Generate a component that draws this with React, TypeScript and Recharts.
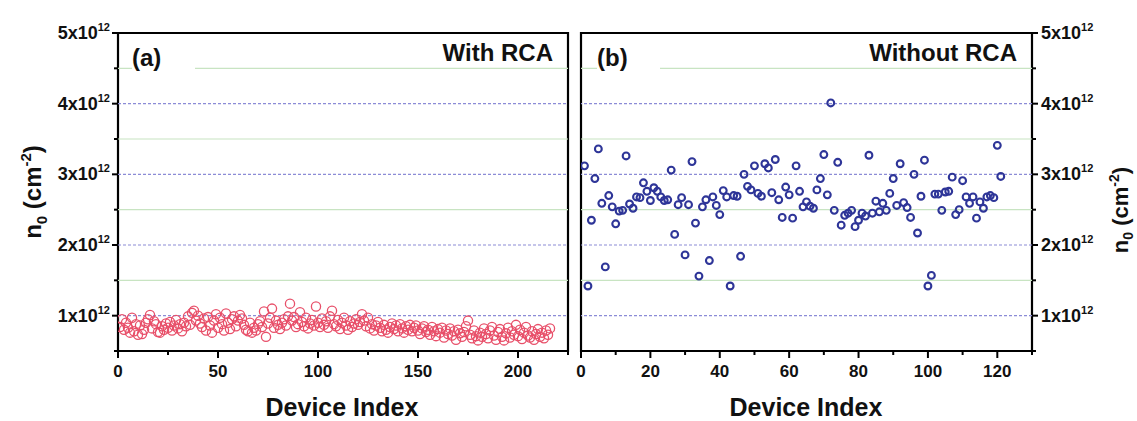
import React from 'react';
import { ScatterChart, Scatter, XAxis, YAxis, ReferenceLine, ReferenceArea } from 'recharts';

// n0 values in units of 10^12 cm^-2; device index starts at 1
const withRcaValues = [
  0.84, 0.95, 0.80, 0.90, 0.83, 0.76, 0.97, 0.78, 0.88, 0.73, 0.86, 0.74, 0.80, 0.90, 0.95, 1.01, 0.82, 0.92, 0.88, 0.77,
  0.76, 0.85, 0.80, 0.89, 0.83, 0.91, 0.79, 0.86, 0.94, 0.82, 0.88, 0.78, 0.90, 0.85, 0.99, 0.87, 1.04, 1.07, 0.93, 1.00,
  0.89, 0.84, 0.96, 0.79, 0.98, 0.86, 0.76, 0.93, 1.02, 0.83, 0.97, 0.88, 0.79, 1.03, 0.90, 0.81, 0.95, 0.99, 0.85, 0.93,
  1.01, 0.96, 0.87, 0.80, 0.78, 0.90, 0.76, 0.83, 0.79, 0.88, 0.92, 0.84, 1.06, 0.70, 0.89, 0.97, 1.10, 0.83, 0.93, 0.87,
  0.81, 0.90, 0.95, 0.86, 0.99, 1.17, 0.93, 0.98, 0.84, 0.88, 1.05, 0.91, 0.85, 0.97, 0.82, 0.89, 0.94, 0.86, 1.13, 0.90,
  0.84, 0.96, 0.87, 0.92, 0.83, 0.99, 1.07, 0.88, 0.85, 0.94, 0.81, 0.90, 0.97, 0.86, 0.80, 0.92, 0.84, 0.89, 0.95, 0.87,
  0.91, 1.02, 0.93, 0.85, 0.97, 0.82, 0.88, 0.79, 0.86, 0.91, 0.83, 0.78, 0.87, 0.80, 0.76, 0.84, 0.89, 0.81, 0.86, 0.78,
  0.88, 0.82, 0.76, 0.85, 0.80, 0.87, 0.78, 0.83, 0.86, 0.79, 0.74, 0.82, 0.85, 0.77, 0.80, 0.73, 0.84, 0.78, 0.71, 0.81,
  0.76, 0.83, 0.69, 0.79, 0.74, 0.82, 0.72, 0.78, 0.66, 0.80, 0.75, 0.70, 0.77, 0.85, 0.93, 0.73, 0.68, 0.79, 0.71, 0.65,
  0.76, 0.70, 0.82, 0.74, 0.68, 0.79, 0.84, 0.72, 0.66, 0.77, 0.81, 0.70, 0.65, 0.75, 0.83, 0.69, 0.78, 0.73, 0.87, 0.71,
  0.80, 0.67, 0.76, 0.84, 0.72, 0.69, 0.78, 0.66, 0.74, 0.81, 0.70, 0.76, 0.68, 0.79, 0.73, 0.82,
];

const withoutRcaValues = [
  3.12, 1.42, 2.35, 2.94, 3.36, 2.59, 1.69, 2.70, 2.54, 2.30,
  2.48, 2.49, 3.26, 2.58, 2.52, 2.68, 2.67, 2.88, 2.76, 2.63,
  2.81, 2.76, 2.68, 2.63, 2.64, 3.06, 2.15, 2.57, 2.67, 1.86,
  2.57, 3.18, 2.31, 1.56, 2.54, 2.64, 1.78, 2.68, 2.56, 2.43,
  2.77, 2.68, 1.42, 2.70, 2.69, 1.84, 3.00, 2.83, 2.78, 3.12,
  2.73, 2.69, 3.15, 3.09, 2.74, 3.21, 2.64, 2.39, 2.82, 2.71,
  2.38, 3.12, 2.76, 2.54, 2.61, 2.55, 2.52, 2.78, 2.94, 3.28,
  2.71, 4.01, 2.49, 3.17, 2.28, 2.42, 2.45, 2.49, 2.26, 2.35,
  2.45, 2.41, 3.27, 2.45, 2.62, 2.47, 2.59, 2.49, 2.73, 2.94,
  2.56, 3.15, 2.60, 2.53, 2.39, 3.00, 2.17, 2.69, 3.20, 1.42,
  1.57, 2.72, 2.72, 2.49, 2.75, 2.76, 2.96, 2.43, 2.50, 2.91,
  2.68, 2.59, 2.68, 2.38, 2.61, 2.52, 2.68, 2.70, 2.67, 3.41,
  2.97,
];

const yTicks = [0.5, 1, 1.5, 2, 2.5, 3, 3.5, 4, 4.5, 5];
const yMajorGrid = [1, 2, 3, 4];
const yMinorGrid = [1.5, 2.5, 3.5, 4.5];
const xTicksA = [0, 25, 50, 75, 100, 125, 150, 175, 200, 225];
const xTicksB = [0, 10, 20, 30, 40, 50, 60, 70, 80, 90, 100, 110, 120, 130];

const FONT = '"Liberation Sans", Arial, Helvetica, sans-serif';
const RED = '#e8506a';
const BLUE = '#2e3598';

const dataA = withRcaValues.map((v, i) => ({ x: i + 1, y: v }));
const dataB = withoutRcaValues.map((v, i) => ({ x: i + 1, y: v }));

const makeXTick = (majorStep: number) => (props: any) => {
  const { x, y, payload } = props;
  const v = payload.value;
  const major = v % majorStep === 0;
  return (
    <g>
      <line x1={x} y1={y} x2={x} y2={y + (major ? 7 : 4)} stroke="#000" strokeWidth={2} />
      {major && (
        <text x={x} y={y + 26} textAnchor="middle" fontSize={17} fontWeight="bold" fontFamily={FONT} fill="#111">
          {v}
        </text>
      )}
    </g>
  );
};

const LeftYTick = (props: any) => {
  const { x, y, payload } = props;
  const v = payload.value;
  const major = Number.isInteger(v);
  return (
    <g>
      <line x1={x} y1={y} x2={x - (major ? 6 : 4)} y2={y} stroke="#000" strokeWidth={2} />
      {major && (
        <text x={x - 8} y={y + 6} textAnchor="end" fontSize={18} fontWeight="bold" fontFamily={FONT} fill="#111">
          {v}x10<tspan dy={-8} fontSize={11}>12</tspan>
        </text>
      )}
    </g>
  );
};

const RightYTick = (props: any) => {
  const { x, y, payload } = props;
  const v = payload.value;
  const major = Number.isInteger(v);
  return (
    <g>
      <line x1={x} y1={y} x2={x + (major ? 6 : 4)} y2={y} stroke="#000" strokeWidth={2} />
      {major && (
        <text x={x + 9} y={y + 6} textAnchor="start" fontSize={18} fontWeight="bold" fontFamily={FONT} fill="#111">
          {v}x10<tspan dy={-8} fontSize={11}>12</tspan>
        </text>
      )}
    </g>
  );
};

const RedCircle = (props: any) => (
  <circle cx={props.cx} cy={props.cy} r={4.6} fill="none" stroke={RED} strokeWidth={1.3} />
);
const BlueCircle = (props: any) => (
  <circle cx={props.cx} cy={props.cy} r={3.4} fill="none" stroke={BLUE} strokeWidth={2.1} />
);

const grid = () => [
  ...yMinorGrid.map((v) => (
    <ReferenceLine key={'g' + v} y={v} stroke="#c8e4c2" strokeWidth={1.2} />
  )),
  ...yMajorGrid.map((v) => (
    <ReferenceLine key={'b' + v} y={v} stroke="#8c8cd6" strokeWidth={1.2} strokeDasharray="3 2" />
  )),
];

const labelStyle: React.CSSProperties = {
  position: 'absolute',
  fontFamily: FONT,
  fontWeight: 'bold',
  fontSize: 24,
  color: '#111',
  lineHeight: '30px',
  whiteSpace: 'nowrap',
};

export default function App() {
  return (
    <div style={{ position: 'absolute', left: 0, top: 0, width: 1137, height: 421, background: '#fff', overflow: 'hidden' }}>
      <div style={{ position: 'absolute', left: 0, top: 0 }}>
        <ScatterChart width={580} height={421} margin={{ top: 33, right: 12, bottom: 0, left: 0 }}>
          <XAxis
            type="number"
            dataKey="x"
            domain={[0, 225]}
            ticks={xTicksA}
            interval={0}
            height={70}
            axisLine={false}
            tickLine={false}
            tickSize={0}
            tickMargin={0}
            tick={makeXTick(50)}
            allowDataOverflow
          />
          <YAxis
            type="number"
            dataKey="y"
            domain={[0.5, 5]}
            ticks={yTicks}
            interval={0}
            width={118}
            axisLine={false}
            tickLine={false}
            tickSize={0}
            tickMargin={0}
            tick={<LeftYTick />}
            allowDataOverflow
          />
          {grid()}
          <Scatter data={dataA} shape={RedCircle} isAnimationActive={false} />
          <ReferenceArea x1={0} x2={225} y1={0.5} y2={5} fill="none" stroke="#000" strokeWidth={2.2} />
        </ScatterChart>
      </div>
      <div style={{ position: 'absolute', left: 570, top: 0 }}>
        <ScatterChart width={567} height={421} margin={{ top: 33, right: 0, bottom: 0, left: 11 }}>
          <XAxis
            type="number"
            dataKey="x"
            domain={[0, 130]}
            ticks={xTicksB}
            interval={0}
            height={70}
            axisLine={false}
            tickLine={false}
            tickSize={0}
            tickMargin={0}
            tick={makeXTick(20)}
            allowDataOverflow
          />
          <YAxis
            type="number"
            dataKey="y"
            orientation="right"
            domain={[0.5, 5]}
            ticks={yTicks}
            interval={0}
            width={105}
            axisLine={false}
            tickLine={false}
            tickSize={0}
            tickMargin={0}
            tick={<RightYTick />}
            allowDataOverflow
          />
          {grid()}
          <Scatter data={dataB} shape={BlueCircle} isAnimationActive={false} />
          <ReferenceArea x1={0} x2={130} y1={0.5} y2={5} fill="none" stroke="#000" strokeWidth={2.2} />
        </ScatterChart>
      </div>

      <div style={{ ...labelStyle, left: 132, top: 43, width: 63, background: '#fff' }}>(a)</div>
      <div style={{ ...labelStyle, left: 400, top: 38, width: 153, textAlign: 'right' }}>With RCA</div>
      <div style={{ ...labelStyle, left: 597, top: 43, width: 63, background: '#fff' }}>(b)</div>
      <div style={{ ...labelStyle, left: 820, top: 38, width: 197, textAlign: 'right' }}>Without RCA</div>

      <svg width={1137} height={421} style={{ position: 'absolute', left: 0, top: 0, pointerEvents: 'none' }}>
        <g fontFamily={FONT} fontWeight="bold" fill="#111">
          <text x={342} y={416} textAnchor="middle" fontSize={25}>Device Index</text>
          <text x={806} y={416} textAnchor="middle" fontSize={25}>Device Index</text>
          <text transform="translate(41,192) rotate(-90)" textAnchor="middle" fontSize={24}>
            n<tspan dy={6} fontSize={15}>0</tspan>
            <tspan dy={-6}> (cm</tspan>
            <tspan dy={-10} fontSize={15}>-2</tspan>
            <tspan dy={10}>)</tspan>
          </text>
          <text transform="translate(1128,210) rotate(-90)" textAnchor="middle" fontSize={22}>
            n<tspan dy={5} fontSize={14}>0</tspan>
            <tspan dy={-5}> (cm</tspan>
            <tspan dy={-9} fontSize={14}>-2</tspan>
            <tspan dy={9}>)</tspan>
          </text>
        </g>
      </svg>
    </div>
  );
}
